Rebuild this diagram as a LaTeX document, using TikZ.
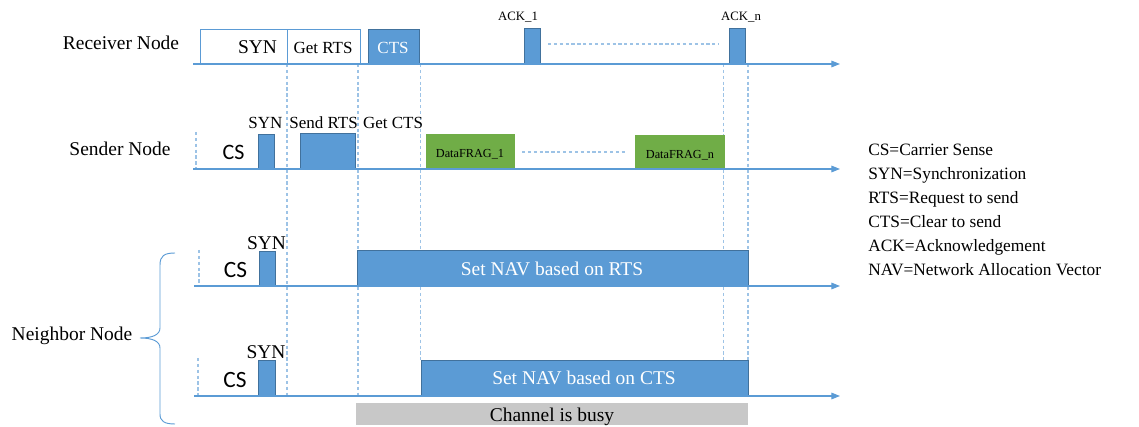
\documentclass[tikz,border=0pt]{standalone}
\usepackage{fontspec}
\setmainfont{Liberation Serif}
\newfontfamily\califont{Carlito}
\usetikzlibrary{arrows.meta}

\definecolor{boxblue}{HTML}{5B9BD5}
\definecolor{edgeblue}{HTML}{41719C}
\definecolor{lineblue}{HTML}{5B9BD5}
\definecolor{dashblue}{HTML}{9DC3E6}
\definecolor{fraggreen}{HTML}{70AD47}
\definecolor{busygrey}{HTML}{C8C8C8}

\tikzset{
  timeline/.style={draw=lineblue, line width=0.8pt, -{Triangle[length=6.5pt,width=5pt]}},
  guide/.style={draw=dashblue, line width=1.05pt, dash pattern=on 2.4pt off 2pt},
  slot/.style={fill=boxblue, draw=edgeblue, line width=0.6pt},
  openslot/.style={draw=lineblue, line width=0.6pt},
  frag/.style={fill=fraggreen, draw=fraggreen},
  busy/.style={fill=busygrey, draw=none},
  labeltext/.style={font=\fontsize{14.6}{17}\selectfont, inner sep=0pt, anchor=base},
  boxtext/.style={font=\fontsize{12.75}{15}\selectfont, inner sep=0pt, anchor=base},
  smalltext/.style={font=\fontsize{9.6}{11}\selectfont, inner sep=0pt, anchor=base},
  cstext/.style={font=\califont\fontsize{16.5}{19}\selectfont, inner sep=0pt, anchor=base},
  legendtext/.style={font=\fontsize{13}{15}\selectfont, inner sep=0pt, anchor=base west},
}

\begin{document}
\begin{tikzpicture}[x=0.75pt,y=0.75pt,yscale=-1,xscale=1]
\useasboundingbox (0,0) rectangle (1139,427);

%Dashed guides
\draw[guide] (287,64) -- (287,396);
\draw[guide] (358,64) -- (358,396);
\draw[guide] (420.5,64) -- (420.5,360);
\draw[guide] (723.5,64) -- (723.5,360);
\draw[guide] (748,64) -- (748,360);
\draw[guide] (196,132) -- (196,169);
\draw[guide] (199,250) -- (199,286);
\draw[guide] (198,358) -- (198,396);
\draw[guide] (548,44) -- (719,44);
\draw[guide] (522,152) -- (625,152);

%Receiver row
\draw[openslot] (200,29) rectangle (287,64);
\draw[openslot] (287,29) rectangle (360,64);
\draw[slot] (368,29) rectangle (419,64);
\draw[slot] (524,28) rectangle (540,64);
\draw[slot] (729,28) rectangle (745,64);

%Sender row
\draw[slot] (258,134) rectangle (274,169);
\draw[slot] (300,133) rectangle (355,169);
\draw[frag] (426,134) rectangle (514,169);
\draw[frag] (635,135) rectangle (724,169);

%Neighbor rows
\draw[slot] (259,251) rectangle (275,286);
\draw[slot] (357,250) rectangle (748,286);
\draw[slot] (258,360) rectangle (275,396);
\draw[slot] (421,360) rectangle (748,396);
\draw[busy] (356,403) rectangle (748,425);

%Time axes
\coordinate (rx0) at (193,64);  \coordinate (rx1) at (840,64);
\coordinate (sx0) at (193,169); \coordinate (sx1) at (840,169);
\coordinate (ax0) at (194,286); \coordinate (ax1) at (840,286);
\coordinate (bx0) at (194,396); \coordinate (bx1) at (840,396);
\draw[timeline] (rx0) -- (rx1);
\draw[timeline] (sx0) -- (sx1);
\draw[timeline] (ax0) -- (ax1);
\draw[timeline] (bx0) -- (bx1);

%Brace
\draw[lineblue, line width=0.7pt] (175,253) .. controls (164,253) and (160,256) .. (160,265) -- (160,328) .. controls (160,335) and (152,338) .. (140,338) .. controls (152,338) and (160,341) .. (160,348) -- (160,414) .. controls (160,421) and (164,424) .. (175,424);

% Text Node
\node[labeltext] (recv) at (121,50) {Receiver Node};
\node[labeltext] (send) at (120,156) {Sender Node};
\node[labeltext] (neigh) at (72,340.7) {Neighbor Node};
% Text Node
\node[labeltext] (rsyn) at (257.5,54) {SYN};
\node[boxtext] (rgetrts) at (323,54) {Get RTS};
\node[boxtext, text=white] (rcts) at (393,54) {CTS};
\node[smalltext] (ack1) at (518,21) {ACK\_1};
\node[smalltext] (ackn) at (741,21) {ACK\_n};
% Text Node
\node[cstext] (scs) at (233.5,160) {CS};
\node[boxtext] (ssyn) at (265.5,129) {SYN};
\node[boxtext] (ssendrts) at (323.5,129) {Send RTS};
\node[boxtext] (sgetcts) at (393,129) {Get CTS};
\node[font=\fontsize{9.2}{11}\selectfont, inner sep=0pt, anchor=base] (frag1) at (470,157.3) {DataFRAG\_1};
\node[font=\fontsize{9.2}{11}\selectfont, inner sep=0pt, anchor=base] (fragn) at (680,159) {DataFRAG\_n};
% Text Node
\node[cstext, font=\califont\fontsize{17.5}{20}\selectfont] (acs) at (235.5,277.7) {CS};
\node[labeltext] (asyn) at (266.5,249.3) {SYN};
\node[labeltext, text=white] (anav) at (552,275.7) {Set NAV based on RTS};
\node[cstext, font=\califont\fontsize{17.5}{20}\selectfont] (bcs) at (235,387.7) {CS};
\node[labeltext] (bsyn) at (266,358.3) {SYN};
\node[labeltext, text=white] (bnav) at (584,385) {Set NAV based on CTS};
\node[labeltext] (busy) at (552,421.7) {Channel is busy};

% Legend
\foreach \txt [count=\i] in {CS=Carrier Sense, SYN=Synchronization, RTS=Request to send, CTS=Clear to send, ACK=Acknowledgement, NAV=Network Allocation Vector}
  \node[legendtext] (leg\i) at (868,132+24*\i) {\txt};

\end{tikzpicture}
\end{document}
